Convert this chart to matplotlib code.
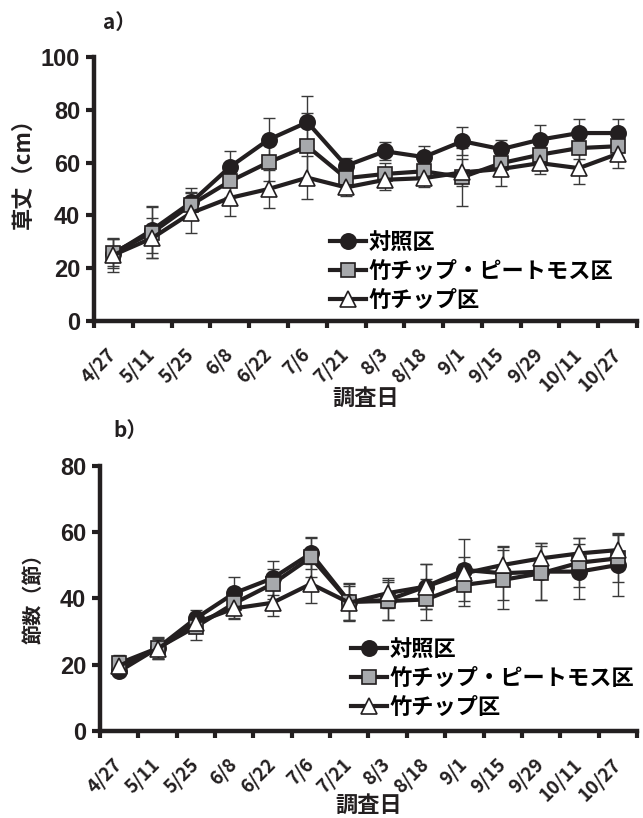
import matplotlib
matplotlib.use("Agg")
import matplotlib.pyplot as plt
import numpy as np

plt.rcParams['font.family'] = ['Noto Sans CJK JP', 'DejaVu Sans']

dates = ["4/27", "5/11", "5/25", "6/8", "6/22", "7/6", "7/21", "8/3",
         "8/18", "9/1", "9/15", "9/29", "10/11", "10/27"]
labels = ["対照区", "竹チップ・ピートモス区", "竹チップ区"]

# a) plant height (cm)
h_ctrl = [25.5, 34.5, 44.9, 58.3, 68.7, 75.3, 58.8, 64.3, 62.1, 68.1, 65.1, 68.7, 71.2, 71.2]
h_mix = [25.9, 33.5, 44.0, 52.9, 60.1, 66.2, 54.1, 55.7, 56.7, 54.5, 59.8, 63.0, 65.5, 66.2]
h_chip = [25.0, 31.4, 40.9, 46.6, 50.0, 54.3, 50.6, 53.5, 54.1, 56.3, 57.6, 59.8, 57.9, 63.3]
h_ctrl_sd = [5.5, 8.9, 5.4, 6.0, 8.3, 10.1, 3.0, 3.4, 4.3, 5.3, 3.6, 5.7, 5.5, 5.5]
h_mix_sd = [5.0, 9.5, 5.0, 6.0, 7.0, 12.7, 3.0, 4.0, 4.0, 11.1, 4.0, 3.0, 4.0, 4.0]
h_chip_sd = [6.3, 7.5, 7.4, 6.8, 7.2, 8.1, 3.4, 3.8, 3.4, 5.0, 6.6, 4.0, 5.9, 5.4]

# b) number of nodes
n_ctrl = [18.0, 25.0, 34.0, 41.6, 46.1, 53.6, 39.0, 39.5, 43.6, 48.6, 47.6, 48.1, 48.1, 50.1]
n_mix = [20.4, 25.0, 31.5, 38.5, 44.4, 52.4, 39.0, 39.2, 39.7, 44.1, 45.6, 47.6, 50.8, 52.1]
n_chip = [19.7, 24.7, 32.7, 37.0, 38.7, 44.4, 38.7, 41.6, 43.6, 47.6, 50.1, 52.1, 53.6, 54.6]
n_ctrl_sd = [1.5, 3.0, 2.5, 5.0, 5.2, 4.8, 5.8, 6.1, 6.8, 9.3, 8.0, 8.7, 8.4, 9.3]
n_mix_sd = [2.6, 3.4, 4.0, 4.8, 4.6, 5.8, 5.5, 5.7, 6.2, 6.4, 8.9, 8.1, 7.4, 7.2]
n_chip_sd = [2.0, 3.0, 3.0, 3.0, 4.0, 5.9, 5.2, 4.5, 6.8, 5.0, 5.7, 4.7, 4.6, 5.3]

ink = "#231f20"
styles = [dict(marker="o", mfc=ink, ms=11),
          dict(marker="s", mfc="#a7a9ac", ms=10.5),
          dict(marker="^", mfc="white", ms=11.5)]

fig = plt.figure(figsize=(6.43, 8.18), dpi=100)
ax1 = fig.add_axes([0.1462, 0.6076, 0.8445, 0.3227])
ax2 = fig.add_axes([0.1555, 0.1064, 0.8351, 0.3240])

x = np.arange(len(dates))

def draw(ax, series, sds, ymax, ylabel, ysize, ylab_xy, xlab_y, legx, legy):
    for vals, sd in zip(series, sds):
        ax.errorbar(x, vals, yerr=sd, fmt="none", ecolor="#3a3a3a",
                    elinewidth=1, capsize=4, capthick=1, zorder=2)
    for vals, st, lab in zip(series, styles, labels):
        ax.plot(x, vals, color=ink, lw=3, mec=ink, mew=1.2, label=lab,
                zorder=3, **st)
    ax.set_xlim(-0.5, len(dates) - 0.5)
    ax.set_ylim(0, ymax)
    ax.set_yticks(np.arange(0, ymax + 1, 20))
    ax.set_xticks(x)
    ax.set_xticks(np.arange(-0.5, len(dates), 1), minor=True)
    ax.set_xticklabels(dates, rotation=45, ha="right", va="center",
                       rotation_mode="anchor", fontsize=13.5, fontweight="bold",
                       color=ink)
    ax.tick_params(axis="x", which="major", length=0, pad=22)
    ax.tick_params(axis="x", which="minor", length=5, width=3, color=ink,
                   direction="out")
    ax.tick_params(axis="y", length=6, width=3, color=ink, direction="out",
                   pad=4)
    for t in ax.get_yticklabels():
        t.set_fontfamily(["Liberation Sans Narrow", "Liberation Sans"])
        t.set_fontweight("bold")
        t.set_fontsize(17)
        t.set_color(ink)
    for s in ["top", "right"]:
        ax.spines[s].set_visible(False)
    for s in ["left", "bottom"]:
        ax.spines[s].set_linewidth(3.2)
        ax.spines[s].set_color(ink)
    ax.set_ylabel(ylabel, fontsize=ysize, fontweight="bold", color=ink)
    ax.yaxis.set_label_coords(*ylab_xy)
    ax.set_xlabel("調査日", fontsize=16, fontweight="bold", color=ink)
    ax.xaxis.set_label_coords(0.5, xlab_y)
    ax.legend(loc="upper left", bbox_to_anchor=(legx, legy), frameon=False,
              prop=dict(size=16, weight="bold"), handlelength=1.6,
              handletextpad=0.12, labelspacing=0.27, borderpad=0,
              borderaxespad=0)

draw(ax1, [h_ctrl, h_mix, h_chip], [h_ctrl_sd, h_mix_sd, h_chip_sd], 100,
     "草丈（cm）", 16, (-0.11, 0.58), -0.25, 0.435, 0.34)
draw(ax2, [n_ctrl, n_mix, n_chip], [n_ctrl_sd, n_mix_sd, n_chip_sd], 80,
     "節数（節）", 14.5, (-0.106, 0.517), -0.238, 0.468, 0.35)

fig.text(0.160, 0.9645, "a）", fontsize=15, fontweight="bold", color=ink,
         va="baseline")
fig.text(0.176, 0.4658, "b）", fontsize=15, fontweight="bold", color=ink,
         va="baseline")

fig.savefig("out.png", dpi=100)
